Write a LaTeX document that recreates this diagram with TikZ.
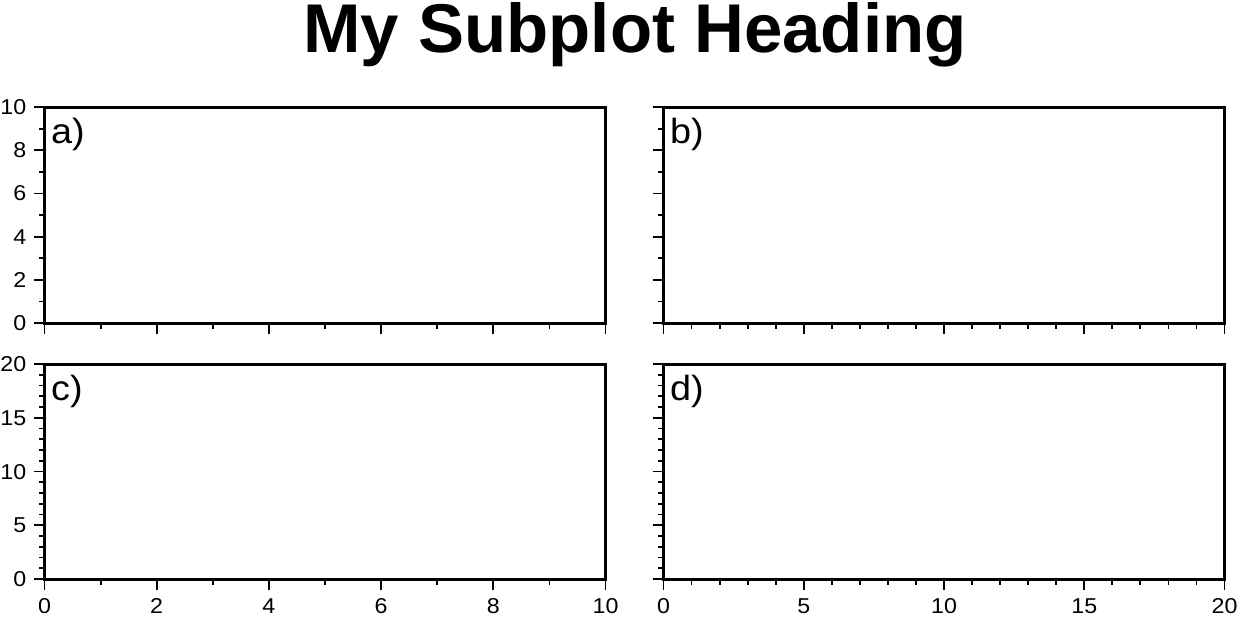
\documentclass[tikz,border=0pt]{standalone}
\usepackage{fontspec}
\setmainfont{Liberation Sans}
\begin{document}
\begin{tikzpicture}[x=1pt,y=-1pt,
  frame/.style={line width=3pt,line join=miter},
  tickline/.style={line width=1.8pt},
  ticklabel/.style={inner sep=0pt,xscale=1.08,font=\fontsize{21.5}{21.5}\selectfont},
  panellabel/.style={inner sep=0pt,anchor=base west,xscale=1.08,font=\fontsize{35}{35}\selectfont},
  titlestyle/.style={inner sep=0pt,anchor=base,text height=50pt,text depth=14pt,font=\fontsize{69}{69}\selectfont\bfseries}
]
\useasboundingbox (0,0) rectangle (1239,616);
\def\aL{44.5}\def\aR{605.5}\def\bL{663.5}\def\bR{1224.5}
\def\rT{107}\def\rB{323}\def\sT{364}\def\sB{579}
\node[titlestyle] (title) at (635,52.5) {My Subplot Heading};
% frames
\draw[frame] (\aL,\rT) rectangle (\aR,\rB);
\draw[frame] (\bL,\rT) rectangle (\bR,\rB);
\draw[frame] (\aL,\sT) rectangle (\aR,\sB);
\draw[frame] (\bL,\sT) rectangle (\bR,\sB);
% panel labels
\node[panellabel] (la) at (\aL+6.5,143) {a)};
\node[panellabel] (lb) at (\bL+6.5,143) {b)};
\node[panellabel] (lc) at (\aL+6.5,400) {c)};
\node[panellabel] (ld) at (\bL+6.5,400) {d)};
% left y ticks, top row (0..10)
\foreach \L in {\aL,\bL}{
  \foreach \v in {0,...,10}{
    \pgfmathsetmacro\yy{\rB-21.6*\v}
    \ifodd\v \def\tl{5.5}\else\def\tl{11}\fi
    \draw[tickline] (\L,\yy) -- ++(-\tl,0);
  }
}
% left y ticks, bottom row (0..20)
\foreach \L in {\aL,\bL}{
  \foreach \v in {0,...,20}{
    \pgfmathsetmacro\yy{\sB-10.75*\v}
    \pgfmathsetmacro\md{mod(\v,5)}
    \ifdim\md pt=0pt \def\tl{11}\else\def\tl{5.5}\fi
    \draw[tickline] (\L,\yy) -- ++(-\tl,0);
  }
}
% bottom x ticks, left column (0..10)
\foreach \B in {\rB,\sB}{
  \foreach \v in {0,...,10}{
    \pgfmathsetmacro\xx{\aL+56.1*\v}
    \ifodd\v \def\tl{5.5}\else\def\tl{11}\fi
    \draw[tickline] (\xx,\B) -- ++(0,\tl);
  }
}
% bottom x ticks, right column (0..20)
\foreach \B in {\rB,\sB}{
  \foreach \v in {0,...,20}{
    \pgfmathsetmacro\xx{\bL+28.05*\v}
    \pgfmathsetmacro\md{mod(\v,5)}
    \ifdim\md pt=0pt \def\tl{11}\else\def\tl{5.5}\fi
    \draw[tickline] (\xx,\B) -- ++(0,\tl);
  }
}
% labels
\foreach \v in {0,2,...,10}{
  \pgfmathsetmacro\yy{\rB-21.6*\v+7.5}
  \node[ticklabel,anchor=base east] (ya\v) at (26.5,\yy) {\v};
}
\foreach \v in {0,5,...,20}{
  \pgfmathsetmacro\yy{\sB-10.75*\v+7.5}
  \node[ticklabel,anchor=base east] (yc\v) at (26.5,\yy) {\v};
}
\foreach \v in {0,2,...,10}{
  \pgfmathsetmacro\xx{\aL+56.1*\v}
  \node[ticklabel,anchor=base] (xc\v) at (\xx,613.5) {\v};
}
\foreach \v in {0,5,...,20}{
  \pgfmathsetmacro\xx{\bL+28.05*\v}
  \node[ticklabel,anchor=base] (xd\v) at (\xx,613.5) {\v};
}
\end{tikzpicture}
\end{document}
